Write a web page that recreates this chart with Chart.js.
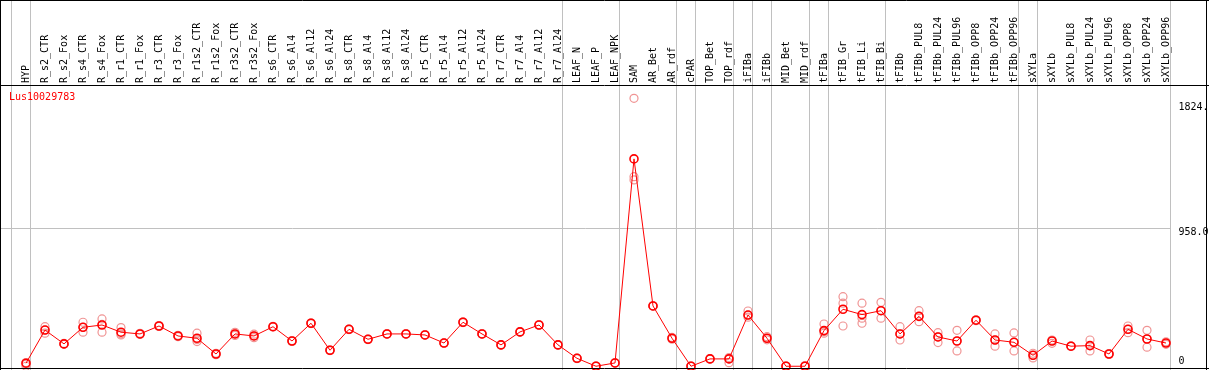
<!DOCTYPE html>
<html>
<head>
<meta charset="utf-8">
<script src="https://cdn.jsdelivr.net/npm/chart.js@4"></script>
<style>
  body { margin: 0; background: #fff; }
  #wrap { position: relative; width: 1209px; height: 370px; }
</style>
</head>
<body>
<div id="wrap"><canvas id="chart"></canvas></div>
<script>
// sample names (column headers)
const samples = [
  'HYP', 'R_s2_CTR', 'R_s2_Fox', 'R_s4_CTR', 'R_s4_Fox', 'R_r1_CTR', 'R_r1_Fox', 'R_r3_CTR', 'R_r3_Fox',
  'R_r1s2_CTR', 'R_r1s2_Fox', 'R_r3s2_CTR', 'R_r3s2_Fox', 'R_s6_CTR', 'R_s6_Al4', 'R_s6_Al12', 'R_s6_Al24',
  'R_s8_CTR', 'R_s8_Al4', 'R_s8_Al12', 'R_s8_Al24', 'R_r5_CTR', 'R_r5_Al4', 'R_r5_Al12', 'R_r5_Al24',
  'R_r7_CTR', 'R_r7_Al4', 'R_r7_Al12', 'R_r7_Al24', 'LEAF_N', 'LEAF_P', 'LEAF_NPK', 'SAM', 'AR_Bet', 'AR_rdf',
  'cPAR', 'TOP_Bet', 'TOP_rdf', 'iFIBa', 'iFIBb', 'MID_Bet', 'MID_rdf', 'tFIBa', 'tFIB_Gr', 'tFIB_Li', 'tFIB_Bi',
  'tFIBb', 'tFIBb_PUL8', 'tFIBb_PUL24', 'tFIBb_PUL96', 'tFIBb_OPP8', 'tFIBb_OPP24', 'tFIBb_OPP96',
  'sXYLa', 'sXYLb', 'sXYLb_PUL8', 'sXYLb_PUL24', 'sXYLb_PUL96', 'sXYLb_OPP8', 'sXYLb_OPP24', 'sXYLb_OPP96'
];

const geneName = 'Lus10029783';

// mean expression per sample
const meanValues = [
  21, 251, 155, 270, 286, 236, 224, 279, 210,
  194, 85, 224, 210, 274, 175, 298, 111,
  256, 187, 224, 224, 217, 161, 305, 224,
  148, 238, 286, 148, 55, 0, 23, 1437, 418, 194,
  0, 51, 51, 355, 194, 0, 0, 247, 395, 358, 385,
  224, 346, 203, 175, 319, 182, 166,
  76, 175, 139, 143, 85, 256, 189, 161
];

// replicates
const rep1 = [
  26, 274, 158, 305, 328, 268, 228, 282, 215,
  229, 90, 235, 222, 276, 178, 300, 113,
  258, 189, 226, 226, 219, 163, 307, 226,
  150, 240, 288, 150, 57, 2, 25, 1857, 420, 200,
  2, 53, 60, 383, 205, 2, 5, 293, 482, 437, 443,
  274, 385, 233, 249, 322, 224, 231,
  90, 182, 141, 182, 88, 279, 249, 170
];
const rep2 = [
  14, 229, 152, 236, 236, 217, 220, 276, 205,
  171, 80, 214, 198, 272, 172, 296, 109,
  254, 185, 222, 222, 215, 159, 303, 222,
  146, 236, 284, 146, 53, 0, 21, 1314, 416, 188,
  0, 49, 25, 340, 183, 0, 0, 229, 437, 333, 333,
  182, 309, 164, 106, 316, 139, 106,
  58, 159, 137, 106, 82, 233, 132, 152
];
const rep3 = [
  0, 251, 155, 270, 290, 225, 224, 279, 210,
  185, 85, 224, 210, 274, 175, 298, 111,
  256, 187, 224, 224, 217, 161, 305, 224,
  148, 238, 286, 148, 55, 0, 23, 1291, 418, 194,
  0, 51, 51, 355, 194, 0, 0, 240, 279, 298, 385,
  224, 346, 203, 175, 319, 182, 166,
  76, 175, 139, 143, 85, 256, 189, 161
];

// y axis ticks and their printed labels
const yTicks = [0, 958, 1824];
const yTickLabels = ['0', '958.0', '1824.'];

// sample index after which a group separator is drawn (-1 = before first)
const groupEnds = [-1, 0, 28, 31, 34, 35, 37, 38, 39, 41, 42, 45, 52, 53, 60];

const FONT = 'DejaVu Sans Mono';

// grid lines, frame and gene label
const framePlugin = {
  id: 'frame',
  beforeDatasetsDraw(chart) {
    const ctx = chart.ctx;
    const x = chart.scales.x, y = chart.scales.y;
    ctx.save();
    ctx.strokeStyle = '#c0c0c0';
    ctx.lineWidth = 1;
    ctx.beginPath();
    groupEnds.forEach(i => {
      const px = Math.round(x.getPixelForValue(i) + 4) + 0.5;
      ctx.moveTo(px, 0);
      ctx.lineTo(px, chart.height);
    });
    const gy = Math.round(y.getPixelForValue(yTicks[1])) + 0.5;
    ctx.moveTo(0, gy);
    ctx.lineTo(Math.round(x.getPixelForValue(samples.length - 1) + 4) + 0.5, gy);
    ctx.stroke();
    ctx.restore();
  },
  afterDraw(chart) {
    const ctx = chart.ctx;
    const area = chart.chartArea;
    ctx.save();
    ctx.strokeStyle = '#000';
    ctx.lineWidth = 1;
    ctx.beginPath();
    ctx.moveTo(0, 0.5); ctx.lineTo(chart.width, 0.5);
    ctx.moveTo(0, Math.round(area.top) + 0.5); ctx.lineTo(chart.width, Math.round(area.top) + 0.5);
    ctx.moveTo(0, 368.5); ctx.lineTo(chart.width, 368.5);
    ctx.moveTo(0.5, 0); ctx.lineTo(0.5, chart.height);
    ctx.moveTo(1206.5, 0); ctx.lineTo(1206.5, chart.height);
    ctx.stroke();
    ctx.fillStyle = '#ff0000';
    ctx.font = '10px ' + FONT;
    ctx.textBaseline = 'middle';
    ctx.fillText(chart.data.datasets[0].label, 9, area.top + 12);
    ctx.restore();
  }
};

const ctx = document.getElementById('chart').getContext('2d');
new Chart(ctx, {
  type: 'line',
  data: {
    labels: samples,
    datasets: [
      {
        label: geneName,
        data: meanValues,
        borderColor: '#ff0000',
        borderWidth: 1,
        pointStyle: 'circle',
        pointRadius: 4,
        pointBorderWidth: 1.6,
        pointBorderColor: '#ff0000',
        pointBackgroundColor: 'rgba(255,255,255,0)',
        tension: 0,
        clip: false,
        order: 0
      },
      ...[rep1, rep2, rep3].map((r, k) => ({
        label: 'rep' + (k + 1),
        data: r,
        showLine: false,
        pointRadius: 4,
        pointBorderWidth: 1.2,
        pointBorderColor: '#f09494',
        pointBackgroundColor: 'rgba(255,255,255,0)',
        clip: false,
        order: 1
      }))
    ]
  },
  plugins: [framePlugin],
  options: {
    responsive: true,
    maintainAspectRatio: false,
    animation: false,
    events: [],
    layout: { autoPadding: false, padding: { left: 16.5, right: 0, top: 0, bottom: 1 } },
    plugins: { legend: { display: false }, tooltip: { enabled: false } },
    scales: {
      x: {
        type: 'category',
        position: 'top',
        offset: true,
        grid: { display: false, drawTicks: false },
        border: { display: false },
        afterFit: s => { s.height = 85; s.paddingLeft = 0; s.paddingRight = 0; },
        ticks: {
          autoSkip: false,
          minRotation: 90,
          maxRotation: 90,
          padding: 2,
          labelOffset: 12,
          color: '#000',
          font: { family: FONT, size: 10 }
        }
      },
      y: {
        position: 'right',
        min: -19,
        max: 1949,
        grid: { display: false, drawTicks: false },
        border: { display: false },
        afterFit: s => { s.width = 33.5; s.paddingTop = 0; s.paddingBottom = 0; },
        afterBuildTicks: s => { s.ticks = yTicks.map(v => ({ value: v })); },
        ticks: {
          padding: 3,
          labelOffset: 4,
          color: '#000',
          // the bottom label sits above its value line
          font: c => ({ family: FONT, size: 10, lineHeight: c.tick && c.tick.value === 0 ? 1.72 : 1.2 }),
          callback: v => v === 0 ? [yTickLabels[0], ''] : yTickLabels[yTicks.indexOf(v)]
        }
      }
    }
  }
});
</script>
</body>
</html>
